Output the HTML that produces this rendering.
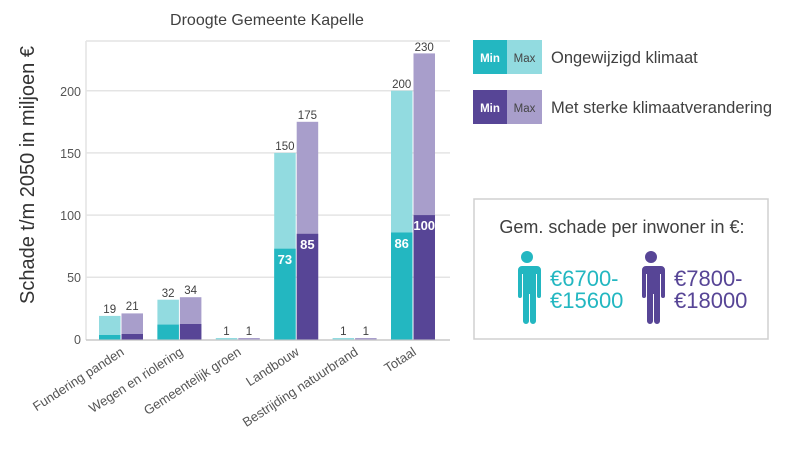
<!DOCTYPE html>
<html><head><meta charset="utf-8"><style>
html,body{margin:0;padding:0;background:#fff;}
svg{display:block;font-family:"Liberation Sans",sans-serif;}
</style></head><body>
<svg width="803" height="450" viewBox="0 0 803 450" xmlns="http://www.w3.org/2000/svg">
<text x="267" y="25" font-size="16" fill="#404040" text-anchor="middle">Droogte Gemeente Kapelle</text>
<g stroke="#e4e4e4" stroke-width="1.5">
<line x1="86" y1="41" x2="450" y2="41"/>
<line x1="86" y1="90.7" x2="450" y2="90.7"/>
<line x1="86" y1="152.9" x2="450" y2="152.9"/>
<line x1="86" y1="215.1" x2="450" y2="215.1"/>
<line x1="86" y1="277.3" x2="450" y2="277.3"/>
<line x1="86" y1="41" x2="86" y2="340"/>
</g>
<line x1="86" y1="340" x2="450" y2="340" stroke="#c8c8c8" stroke-width="1.5"/>
<g font-size="12.5" fill="#555" text-anchor="end">
<text x="81" y="344">0</text><text x="81" y="282">50</text><text x="81" y="220">100</text><text x="81" y="158">150</text><text x="81" y="96">200</text>
</g>
<text transform="translate(34,175) rotate(-90)" font-size="20" fill="#333" text-anchor="middle">Schade t/m 2050 in miljoen €</text>
<g>
<rect x="99" y="315.9" width="21.5" height="23.6" fill="#92dbe0"/><rect x="99" y="335" width="21.5" height="4.5" fill="#23b7c1"/>
<rect x="121.5" y="313.4" width="21.5" height="26.1" fill="#a89ecb"/><rect x="121.5" y="334" width="21.5" height="5.5" fill="#574596"/>
<rect x="157.4" y="299.7" width="21.5" height="39.8" fill="#92dbe0"/><rect x="157.4" y="324.6" width="21.5" height="14.9" fill="#23b7c1"/>
<rect x="179.9" y="297.2" width="21.5" height="42.3" fill="#a89ecb"/><rect x="179.9" y="324" width="21.5" height="15.5" fill="#574596"/>
<rect x="215.8" y="338" width="21.5" height="1.5" fill="#92dbe0"/>
<rect x="238.3" y="338" width="21.5" height="1.5" fill="#a89ecb"/>
<rect x="274.2" y="152.9" width="21.5" height="186.6" fill="#92dbe0"/><rect x="274.2" y="248.7" width="21.5" height="90.8" fill="#23b7c1"/>
<rect x="296.7" y="121.8" width="21.5" height="217.7" fill="#a89ecb"/><rect x="296.7" y="233.8" width="21.5" height="105.7" fill="#574596"/>
<rect x="332.6" y="338" width="21.5" height="1.5" fill="#92dbe0"/>
<rect x="355.1" y="338" width="21.5" height="1.5" fill="#a89ecb"/>
<rect x="391" y="90.7" width="21.5" height="248.8" fill="#92dbe0"/><rect x="391" y="232.5" width="21.5" height="107" fill="#23b7c1"/>
<rect x="413.5" y="53.4" width="21.5" height="286.1" fill="#a89ecb"/><rect x="413.5" y="215.1" width="21.5" height="124.4" fill="#574596"/>
</g>
<g font-size="11.5" fill="#404040" text-anchor="middle">
<text x="109.7" y="313">19</text><text x="132.2" y="310">21</text>
<text x="168.1" y="297">32</text><text x="190.6" y="294">34</text>
<text x="226.5" y="335">1</text><text x="249" y="335">1</text>
<text x="284.9" y="150">150</text><text x="307.4" y="119">175</text>
<text x="343.3" y="335">1</text><text x="365.8" y="335">1</text>
<text x="401.7" y="88">200</text><text x="424.2" y="51">230</text>
</g>
<g font-size="13" fill="#fff" text-anchor="middle" font-weight="bold">
<text x="284.9" y="264">73</text><text x="307.4" y="249">85</text>
<text x="401.7" y="248">86</text><text x="424.2" y="230">100</text>
</g>
<g font-size="13" fill="#555" text-anchor="end">
<text transform="translate(125,354) rotate(-33)">Fundering panden</text>
<text transform="translate(184,354) rotate(-33)">Wegen en riolering</text>
<text transform="translate(242,354) rotate(-33)">Gemeentelijk groen</text>
<text transform="translate(300,354) rotate(-33)">Landbouw</text>
<text transform="translate(359,354) rotate(-33)">Bestrijding natuurbrand</text>
<text transform="translate(417,354) rotate(-33)">Totaal</text>
</g>
<rect x="473" y="40" width="34" height="34" fill="#23b7c1"/><rect x="507" y="40" width="35" height="34" fill="#92dbe0"/>
<rect x="473" y="90" width="34" height="34" fill="#574596"/><rect x="507" y="90" width="35" height="34" fill="#a89ecb"/>
<g font-size="11.5">
<text x="490" y="62" fill="#fff" text-anchor="middle" font-weight="bold">Min</text><text x="524.5" y="62" fill="#444" text-anchor="middle">Max</text>
<text x="490" y="112" fill="#fff" text-anchor="middle" font-weight="bold">Min</text><text x="524.5" y="112" fill="#444" text-anchor="middle">Max</text>
</g>
<text x="551" y="63" font-size="16.5" fill="#404040">Ongewijzigd klimaat</text>
<text x="551" y="113" font-size="16.5" fill="#404040">Met sterke klimaatverandering</text>
<rect x="474" y="199" width="294" height="140" fill="#fff" stroke="#d0d0d0" stroke-width="1.5"/>
<text x="622" y="233" font-size="18" fill="#404040" text-anchor="middle">Gem. schade per inwoner in €:</text>
<g fill="#23b7c1">
<circle cx="527" cy="257" r="6"/>
<path d="M517 266 h20 a4 4 0 0 1 4 4 v26 a2 2 0 0 1 -4 0 v-22 h-1 v47 a3 3 0 0 1 -6 0 v-27 h-1 v27 a3 3 0 0 1 -6 0 v-47 h-1 v22 a2 2 0 0 1 -4 0 v-26 a4 4 0 0 1 4 -4z"/>
</g>
<g fill="#574596">
<circle cx="651" cy="257" r="6"/>
<path d="M641 266 h20 a4 4 0 0 1 4 4 v26 a2 2 0 0 1 -4 0 v-22 h-1 v47 a3 3 0 0 1 -6 0 v-27 h-1 v27 a3 3 0 0 1 -6 0 v-47 h-1 v22 a2 2 0 0 1 -4 0 v-26 a4 4 0 0 1 4 -4z"/>
</g>
<g font-size="22" fill="#23b7c1"><text x="550" y="286">€6700-</text><text x="550" y="308">€15600</text></g>
<g font-size="22" fill="#574596"><text x="674" y="286">€7800-</text><text x="674" y="308">€18000</text></g>
</svg>
</body></html>
